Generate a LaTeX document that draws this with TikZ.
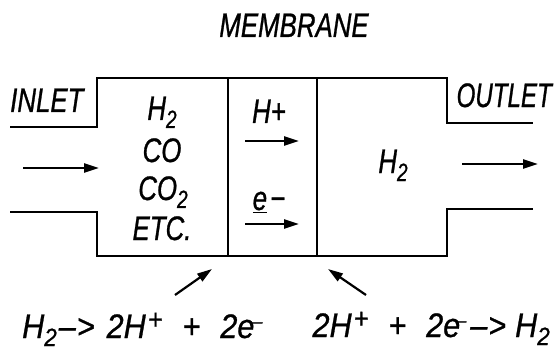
\documentclass[tikz,border=0pt]{standalone}
\usepackage{fontspec}
\usetikzlibrary{arrows.meta}
\newfontfamily\lab{Liberation Sans}[FakeStretch=0.76,FakeBold=0.8]
\newfontfamily\labn{Liberation Sans}[FakeStretch=0.71,FakeBold=0.8]
\newfontfamily\fml{Liberation Sans}[FakeStretch=0.9,FakeBold=0.8]
\newcommand\sbs[1]{\raisebox{-8pt}{\fontsize{25}{25}\selectfont #1}}
\newcommand\sps[1]{\raisebox{9pt}{\fontsize{28}{28}\selectfont #1}}
\newcommand\spm{\raisebox{10pt}{\fontsize{20}{20}\selectfont –}}
\begin{document}
\begin{tikzpicture}[x=1pt,y=-1pt,
  wall/.style={line width=2.4pt, line join=miter},
  flow/.style={line width=2.2pt, -{Triangle[length=15pt,width=9pt]}},
  lbl/.style={font=\lab\itshape\fontsize{34}{38}\selectfont, inner sep=0pt},
  eqn/.style={font=\fml\itshape\fontsize{34}{38}\selectfont, inner sep=0pt}]
\useasboundingbox (0,0) rectangle (555,353);
% chamber walls
\draw[wall] (10,127) -- (97,127) -- (97,78) -- (447,78) -- (447,123) -- (533,123);
\draw[wall] (10,212) -- (97,212) -- (97,256) -- (447,256) -- (447,209) -- (533,209);
\draw[wall] (228,78) -- (228,256);
\draw[wall] (317,78) -- (317,256);
% labels
\node[lbl, anchor=base] (mem) at (294,37) {MEMBRANE};
\node[lbl, anchor=base west] (inlet) at (10,112) {INLET};
\node[lbl, font=\labn\itshape\fontsize{34}{38}\selectfont, anchor=base east] (outlet) at (552,107) {OUTLET};
\node[lbl, anchor=base] (h2a) at (162,120) {H\sbs{2}};
\node[lbl, anchor=base] (co) at (162,162) {CO};
\node[lbl, anchor=base] (co2) at (163,200) {CO\sbs{2}};
\node[lbl, anchor=base] (etc) at (162,240) {ETC.};
\node[lbl, anchor=base] (hp) at (269,123) {H+};
\node[lbl, anchor=base] (em) at (269,210) {\underline{e}\hspace{3pt}−};
\node[lbl, anchor=base] (h2b) at (393,173) {H\sbs{2}};
\node[eqn, anchor=base west] (rx1) at (22,338)
  {H\sbs{2}\hspace{2pt}–\hspace{1pt}>\hspace{12pt}2H\hspace{2pt}\sps{+}\hspace{20pt}+\hspace{20pt}2e\hspace{-2pt}\spm};
\node[eqn, anchor=base east] (rx2) at (550,337)
  {2H\hspace{2pt}\sps{+}\hspace{20pt}+\hspace{20pt}2e\hspace{-4pt}\spm\hspace{4pt}–\hspace{1pt}>\hspace{9pt}H\sbs{2}};
% flow arrows
\coordinate (inA) at (23,168);  \coordinate (inB) at (99,168);
\coordinate (outA) at (462,164); \coordinate (outB) at (538,164);
\coordinate (hA) at (245,141);  \coordinate (hB) at (299,141);
\coordinate (eA) at (245,224);  \coordinate (eB) at (299,224);
\coordinate (aA) at (175,295);  \coordinate (aB) at (212,269);
\coordinate (bA) at (366,295);  \coordinate (bB) at (328,269);
\draw[flow] (inA) -- (inB);
\draw[flow] (outA) -- (outB);
\draw[flow] (hA) -- (hB);
\draw[flow] (eA) -- (eB);
\draw[flow] (aA) -- (aB);
\draw[flow] (bA) -- (bB);
\end{tikzpicture}
\end{document}
